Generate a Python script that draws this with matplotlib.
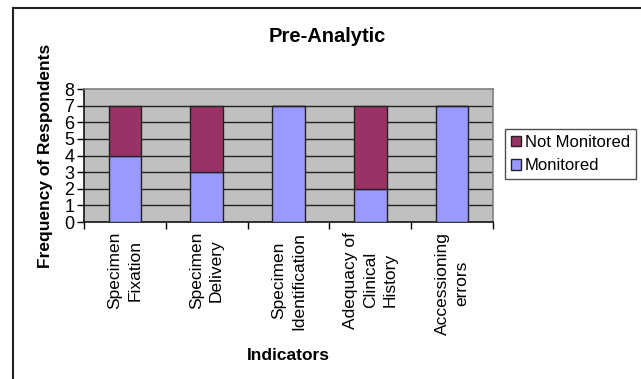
import matplotlib.pyplot as plt
from matplotlib.lines import Line2D
import numpy as np

plt.rcParams['font.family'] = ['Liberation Sans', 'DejaVu Sans']

indicators = ["Specimen\nFixation", "Specimen\nDelivery", "Specimen\nIdentification",
              "Adequacy of\nClinical\nHistory", "Accessioning\nerrors"]
monitored = [4, 3, 7, 2, 7]
not_monitored = [3, 4, 0, 5, 0]

col_mon = "#9999FF"
col_not = "#993366"

fig = plt.figure(figsize=(6.41, 3.79), dpi=100)
ax = fig.add_axes([84 / 641, 1 - 222 / 379, 409 / 641, 133 / 379])
ax.set_facecolor("#C0C0C0")

x = np.arange(len(indicators))
ax.bar(x, monitored, width=0.4, color=col_mon, edgecolor="#222222", linewidth=1.0,
       label="Monitored", zorder=3)
ax.bar(x, not_monitored, width=0.4, bottom=monitored, color=col_not,
       edgecolor="#222222", linewidth=1.0, label="Not Monitored", zorder=3)

ax.set_xlim(-0.5, len(indicators) - 0.5)
ax.set_ylim(0, 8)
ax.set_yticks(range(9))
for v in range(1, 8):
    ax.axhline(v, color="#222222", linewidth=1.0, zorder=1)

# category boundaries get the tick marks, centres get the labels
ax.set_xticks(np.arange(-0.5, len(indicators)), labels=[])
ax.set_xticks(x, labels=indicators, minor=True)
ax.tick_params(axis="x", which="major", length=5, width=1, direction="out")
ax.tick_params(axis="x", which="minor", length=0, pad=7, labelsize=12.5,
               labelrotation=90)
ax.tick_params(axis="y", length=5, width=1, direction="out", labelsize=13, pad=2)
for lab in ax.get_xticklabels(minor=True):
    lab.set_verticalalignment("top")
    lab.set_multialignment("center")
    lab.set_linespacing(1.4)

ax.spines["left"].set_color("#111111")
ax.spines["bottom"].set_color("#111111")
ax.spines["top"].set_color("#808080")
ax.spines["right"].set_color("#808080")
for s in ax.spines.values():
    s.set_linewidth(1.2)

ax.set_ylabel("Frequency of Respondents", fontsize=12.5, fontweight="bold", labelpad=8)
ax.set_xlabel("Indicators", fontsize=12.5, fontweight="bold", labelpad=10)
fig.text(327 / 641, 1 - 36 / 379, "Pre-Analytic", fontsize=14.5, fontweight="bold",
         ha="center", va="center")

handles, labels = ax.get_legend_handles_labels()
leg = fig.legend(handles[::-1], labels[::-1], loc="center left",
                 bbox_to_anchor=(505 / 641, 1 - 154 / 379), fontsize=12,
                 frameon=True, fancybox=False, edgecolor="#222222",
                 handlelength=0.6, handleheight=0.6, handletextpad=0.25,
                 borderpad=0.35, labelspacing=0.5, borderaxespad=0)
leg.get_frame().set_linewidth(1.0)

# outer chart frame (left and top edges visible)
fig.add_artist(Line2D([13 / 641, 13 / 641], [0, 1 - 8 / 379], color="#222222", linewidth=1.5))
fig.add_artist(Line2D([13 / 641, 1], [1 - 8 / 379, 1 - 8 / 379], color="#222222", linewidth=1.5))

fig.savefig("out.png", dpi=100)
